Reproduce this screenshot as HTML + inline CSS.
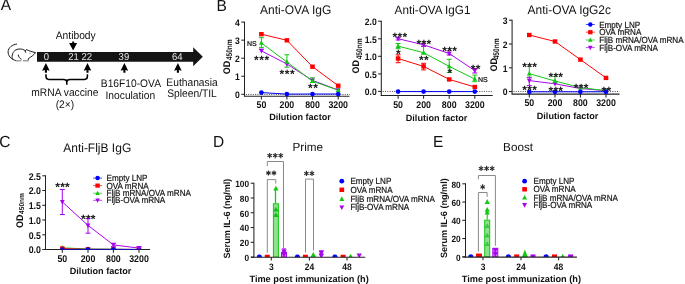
<!DOCTYPE html>
<html><head><meta charset="utf-8"><style>
html,body{margin:0;padding:0;background:#fff;}
svg{display:block;will-change:transform;text-rendering:geometricPrecision;font-family:"Liberation Sans", sans-serif;}
</style></head><body>
<svg xmlns="http://www.w3.org/2000/svg" width="685" height="284" viewBox="0 0 685 284">
<text transform="translate(0.70,10.30) scale(1,1.03)" x="0" y="0" font-size="15.5" font-weight="normal" text-anchor="start" fill="#111" >A</text>
<text transform="translate(216.60,10.90) scale(1,1.03)" x="0" y="0" font-size="15.5" font-weight="normal" text-anchor="start" fill="#111" >B</text>
<text transform="translate(-0.80,146.90) scale(1,1.03)" x="0" y="0" font-size="15.5" font-weight="normal" text-anchor="start" fill="#111" >C</text>
<text transform="translate(213.00,147.10) scale(1,1.03)" x="0" y="0" font-size="15.5" font-weight="normal" text-anchor="start" fill="#111" >D</text>
<text transform="translate(433.00,147.10) scale(1,1.03)" x="0" y="0" font-size="15.5" font-weight="normal" text-anchor="start" fill="#111" >E</text>
<g fill="none" stroke="#1a1a1a" stroke-width="1.0" stroke-linecap="round" stroke-linejoin="round"><path d="M16.6,44.1 C12.2,44.5 8.3,47.7 8.1,51.6 C7.9,55.6 11,59.3 15.6,60.5"/><path d="M12.3,58.8 C11.6,55.4 12.6,51.7 15.9,49.9 C18.6,48.5 22,48.7 24.7,50.2 L25.6,52.3"/><path d="M25.5,50.8 L26.4,49.5 C28.8,51.0 32.2,51.8 35.6,52.6 C33.8,55.0 31.0,57.0 28.4,58.6 L28.2,60.0"/><path d="M18.3,55.0 C18.6,56.7 19.4,58.3 21.2,59.2"/></g>
<path d="M15.8,60.0 L21.3,60.0 L21.3,61.4 L15.8,61.4 Z M22.9,60.0 L28.7,60.0 L28.7,61.4 L22.9,61.4 Z" fill="#a0a0a0"/>
<path d="M29.4,53.3 L30.5,53.1" stroke="#666" stroke-width="0.8"/>
<polygon points="37,52 193.2,52 193.2,47.2 202.8,56.8 193.2,66.3 193.2,61.7 37,61.7" fill="#141414"/>
<text transform="translate(46.40,60.00) scale(1,1.05)" x="0" y="0" font-size="9.5" font-weight="normal" text-anchor="middle" fill="#e6e6e6" >0</text>
<text transform="translate(73.60,60.00) scale(1,1.05)" x="0" y="0" font-size="9.5" font-weight="normal" text-anchor="middle" fill="#e6e6e6" >21</text>
<text transform="translate(86.70,60.00) scale(1,1.05)" x="0" y="0" font-size="9.5" font-weight="normal" text-anchor="middle" fill="#e6e6e6" >22</text>
<text transform="translate(123.90,60.00) scale(1,1.05)" x="0" y="0" font-size="9.5" font-weight="normal" text-anchor="middle" fill="#e6e6e6" >39</text>
<text transform="translate(177.30,60.00) scale(1,1.05)" x="0" y="0" font-size="9.5" font-weight="normal" text-anchor="middle" fill="#e6e6e6" >64</text>
<text transform="translate(75.70,39.10) scale(1,1.07)" x="0" y="0" font-size="10.25" font-weight="normal" text-anchor="middle" fill="#111" >Antibody</text>
<polygon points="72.2,41.4 74.1,41.4 74.1,43.1 77.1,42.9 73.15,50.4 69.1,42.9 72.2,43.1" fill="#000"/>
<polygon points="45.9,62.9 49.699999999999996,70.8 46.949999999999996,69.9 46.949999999999996,72.8 44.85,72.8 44.85,69.9 42.1,70.8" fill="#000"/>
<polygon points="87.5,62.9 91.3,70.8 88.55,69.9 88.55,72.8 86.45,72.8 86.45,69.9 83.7,70.8" fill="#000"/>
<polygon points="124.4,62.9 128.20000000000002,70.8 125.45,69.9 125.45,72.8 123.35000000000001,72.8 123.35000000000001,69.9 120.60000000000001,70.8" fill="#000"/>
<polygon points="177.9,62.9 181.70000000000002,70.8 178.95000000000002,69.9 178.95000000000002,72.8 176.85,72.8 176.85,69.9 174.1,70.8" fill="#000"/>
<path d="M46,74.2 L46,76.6 Q46,79.4 48.8,79.4 L63.6,79.4 Q66.8,79.4 66.8,82 M66.8,79.4 L66.8,84.8 M66.8,82 Q66.8,79.4 70,79.4 L84.6,79.4 Q87.4,79.4 87.4,76.6 L87.4,74.2" fill="none" stroke="#000" stroke-width="1.55"/>
<text transform="translate(64.90,96.00) scale(1,1.07)" x="0" y="0" font-size="10.25" font-weight="normal" text-anchor="middle" fill="#111" >mRNA vaccine</text>
<text transform="translate(64.90,107.60) scale(1,1.07)" x="0" y="0" font-size="10.25" font-weight="normal" text-anchor="middle" fill="#111" >(2×)</text>
<text transform="translate(130.90,87.20) scale(1,1.07)" x="0" y="0" font-size="10.25" font-weight="normal" text-anchor="middle" fill="#111" >B16F10-OVA</text>
<text transform="translate(130.30,98.90) scale(1,1.07)" x="0" y="0" font-size="10.25" font-weight="normal" text-anchor="middle" fill="#111" >Inoculation</text>
<text transform="translate(192.00,86.00) scale(1,1.07)" x="0" y="0" font-size="10.25" font-weight="normal" text-anchor="middle" fill="#111" >Euthanasia</text>
<text transform="translate(192.00,97.30) scale(1,1.07)" x="0" y="0" font-size="10.25" font-weight="normal" text-anchor="middle" fill="#111" >Spleen/TIL</text>
<line x1="245.9" y1="94.45" x2="350" y2="94.45" stroke="#4a4a4a" stroke-width="1.0" stroke-dasharray="1,1.3"/>
<line x1="244.5" y1="21.6" x2="244.5" y2="96.3" stroke="#222222" stroke-width="1.05" />
<line x1="241.3" y1="22.1" x2="244.5" y2="22.1" stroke="#222222" stroke-width="1.05" />
<text transform="translate(239.90,25.90) scale(1,1.1)" x="0" y="0" font-size="8.6" font-weight="bold" text-anchor="end" fill="#111" >4</text>
<line x1="241.3" y1="40.15" x2="244.5" y2="40.15" stroke="#222222" stroke-width="1.05" />
<text transform="translate(239.90,43.95) scale(1,1.1)" x="0" y="0" font-size="8.6" font-weight="bold" text-anchor="end" fill="#111" >3</text>
<line x1="241.3" y1="58.2" x2="244.5" y2="58.2" stroke="#222222" stroke-width="1.05" />
<text transform="translate(239.90,62.00) scale(1,1.1)" x="0" y="0" font-size="8.6" font-weight="bold" text-anchor="end" fill="#111" >2</text>
<line x1="241.3" y1="76.25" x2="244.5" y2="76.25" stroke="#222222" stroke-width="1.05" />
<text transform="translate(239.90,80.05) scale(1,1.1)" x="0" y="0" font-size="8.6" font-weight="bold" text-anchor="end" fill="#111" >1</text>
<line x1="241.3" y1="94.3" x2="244.5" y2="94.3" stroke="#222222" stroke-width="1.05" />
<text transform="translate(239.90,98.10) scale(1,1.1)" x="0" y="0" font-size="8.6" font-weight="bold" text-anchor="end" fill="#111" >0</text>
<line x1="243.9" y1="96.3" x2="349.5" y2="96.3" stroke="#222222" stroke-width="1.05" />
<line x1="261.4" y1="96.3" x2="261.4" y2="99.6" stroke="#222222" stroke-width="1.05" />
<line x1="286.9" y1="96.3" x2="286.9" y2="99.6" stroke="#222222" stroke-width="1.05" />
<line x1="312.5" y1="96.3" x2="312.5" y2="99.6" stroke="#222222" stroke-width="1.05" />
<line x1="338.2" y1="96.3" x2="338.2" y2="99.6" stroke="#222222" stroke-width="1.05" />
<text transform="translate(261.40,108.10) scale(1,1.1)" x="0" y="0" font-size="8.8" font-weight="bold" text-anchor="middle" fill="#111" >50</text>
<text transform="translate(286.90,108.10) scale(1,1.1)" x="0" y="0" font-size="8.8" font-weight="bold" text-anchor="middle" fill="#111" >200</text>
<text transform="translate(312.50,108.10) scale(1,1.1)" x="0" y="0" font-size="8.8" font-weight="bold" text-anchor="middle" fill="#111" >800</text>
<text transform="translate(338.20,108.10) scale(1,1.1)" x="0" y="0" font-size="8.8" font-weight="bold" text-anchor="middle" fill="#111" >3200</text>
<text x="300" y="120.45" font-size="9.1" font-weight="bold" text-anchor="middle" fill="#111" >Dilution factor</text>
<text transform="translate(260.10,13.90) scale(1,1.04)" x="0" y="0" font-size="12.0" font-weight="normal" text-anchor="start" fill="#111" >Anti-OVA IgG</text>
<g transform="translate(229.5,74.2) rotate(-90)"><text x="0" y="0" font-size="9.7" font-weight="bold" fill="#111" transform="scale(0.93,1)">OD</text></g>
<g transform="translate(232.0,60.099999999999994) rotate(-90)"><text x="0" y="0" font-size="8.2" font-weight="bold" fill="#111" transform="scale(0.8,1)">450nm</text></g>
<polyline points="261.4,92.6 286.9,94.1 312.5,94 338.2,94" fill="none" stroke="#0000ff" stroke-width="1.0"/>
<polyline points="261.4,50.9 286.9,64 312.5,80.4 338.2,90" fill="none" stroke="#a805ee" stroke-width="1.0"/>
<polyline points="261.4,43 286.9,62 312.5,81.2 338.2,90.2" fill="none" stroke="#12c812" stroke-width="1.0"/>
<polyline points="261.4,34.2 286.9,40.3 312.5,66.7 338.2,85.7" fill="none" stroke="#ff0000" stroke-width="1.0"/>
<line x1="261.4" y1="37.7" x2="261.4" y2="47.4" stroke="#12c812" stroke-width="1.0" />
<line x1="258.9" y1="37.7" x2="263.9" y2="37.7" stroke="#12c812" stroke-width="1.0" />
<line x1="258.9" y1="47.4" x2="263.9" y2="47.4" stroke="#12c812" stroke-width="1.0" />
<line x1="286.9" y1="54.8" x2="286.9" y2="67.2" stroke="#12c812" stroke-width="1.0" />
<line x1="284.4" y1="54.8" x2="289.4" y2="54.8" stroke="#12c812" stroke-width="1.0" />
<line x1="284.4" y1="67.2" x2="289.4" y2="67.2" stroke="#12c812" stroke-width="1.0" />
<line x1="312.5" y1="77.8" x2="312.5" y2="82.5" stroke="#12c812" stroke-width="1.0" />
<line x1="310.0" y1="77.8" x2="315.0" y2="77.8" stroke="#12c812" stroke-width="1.0" />
<line x1="310.0" y1="82.5" x2="315.0" y2="82.5" stroke="#12c812" stroke-width="1.0" />
<line x1="258.9" y1="49.1" x2="263.9" y2="49.1" stroke="#a805ee" stroke-width="1.0" />
<polygon points="261.4,53.545 258.98499999999996,49.06 263.815,49.06" fill="#a805ee"/>
<polygon points="286.9,66.645 284.48499999999996,62.16 289.315,62.16" fill="#a805ee"/>
<polygon points="312.5,83.045 310.085,78.56 314.915,78.56" fill="#a805ee"/>
<polygon points="338.2,92.645 335.78499999999997,88.16 340.615,88.16" fill="#a805ee"/>
<polygon points="261.4,40.355000000000004 258.98499999999996,44.84 263.815,44.84" fill="#12c812"/>
<polygon points="286.9,59.355000000000004 284.48499999999996,63.84 289.315,63.84" fill="#12c812"/>
<polygon points="312.5,78.555 310.085,83.04 314.915,83.04" fill="#12c812"/>
<polygon points="338.2,87.555 335.78499999999997,92.04 340.615,92.04" fill="#12c812"/>
<rect x="259.09999999999997" y="32.015" width="4.6" height="4.369999999999999" fill="#ff0000"/>
<rect x="284.59999999999997" y="38.114999999999995" width="4.6" height="4.369999999999999" fill="#ff0000"/>
<rect x="310.2" y="64.515" width="4.6" height="4.369999999999999" fill="#ff0000"/>
<rect x="335.9" y="83.515" width="4.6" height="4.369999999999999" fill="#ff0000"/>
<circle cx="261.4" cy="92.6" r="2.3459999999999996" fill="#0000ff"/>
<circle cx="286.9" cy="94.1" r="2.3459999999999996" fill="#0000ff"/>
<circle cx="312.5" cy="94" r="2.3459999999999996" fill="#0000ff"/>
<circle cx="338.2" cy="94" r="2.3459999999999996" fill="#0000ff"/>
<text x="247.0" y="45.5" font-size="7.0" font-weight="normal" text-anchor="start" fill="#111" stroke="#111" stroke-width="0.22">NS</text>
<text x="256.35" y="64.08" font-size="12.0" text-anchor="middle" font-weight="bold" fill="#1c1c1c">*</text>
<text x="261.65" y="64.08" font-size="12.0" text-anchor="middle" font-weight="bold" fill="#1c1c1c">*</text>
<text x="266.95" y="64.08" font-size="12.0" text-anchor="middle" font-weight="bold" fill="#1c1c1c">*</text>
<text x="281.75" y="77.78" font-size="12.0" text-anchor="middle" font-weight="bold" fill="#1c1c1c">*</text>
<text x="287.05" y="77.78" font-size="12.0" text-anchor="middle" font-weight="bold" fill="#1c1c1c">*</text>
<text x="292.35" y="77.78" font-size="12.0" text-anchor="middle" font-weight="bold" fill="#1c1c1c">*</text>
<text x="310.30" y="92.28" font-size="12.0" text-anchor="middle" font-weight="bold" fill="#1c1c1c">*</text>
<text x="315.60" y="92.28" font-size="12.0" text-anchor="middle" font-weight="bold" fill="#1c1c1c">*</text>
<line x1="382.7" y1="91.45" x2="492.5" y2="91.45" stroke="#4a4a4a" stroke-width="1.0" stroke-dasharray="1,1.3"/>
<line x1="381.3" y1="20.7" x2="381.3" y2="95.4" stroke="#222222" stroke-width="1.05" />
<line x1="378.1" y1="21.2" x2="381.3" y2="21.2" stroke="#222222" stroke-width="1.05" />
<text transform="translate(376.70,25.00) scale(1,1.1)" x="0" y="0" font-size="8.6" font-weight="bold" text-anchor="end" fill="#111" >2.0</text>
<line x1="378.1" y1="38.8" x2="381.3" y2="38.8" stroke="#222222" stroke-width="1.05" />
<text transform="translate(376.70,42.60) scale(1,1.1)" x="0" y="0" font-size="8.6" font-weight="bold" text-anchor="end" fill="#111" >1.5</text>
<line x1="378.1" y1="56.3" x2="381.3" y2="56.3" stroke="#222222" stroke-width="1.05" />
<text transform="translate(376.70,60.10) scale(1,1.1)" x="0" y="0" font-size="8.6" font-weight="bold" text-anchor="end" fill="#111" >1.0</text>
<line x1="378.1" y1="73.9" x2="381.3" y2="73.9" stroke="#222222" stroke-width="1.05" />
<text transform="translate(376.70,77.70) scale(1,1.1)" x="0" y="0" font-size="8.6" font-weight="bold" text-anchor="end" fill="#111" >0.5</text>
<line x1="378.1" y1="91.4" x2="381.3" y2="91.4" stroke="#222222" stroke-width="1.05" />
<text transform="translate(376.70,95.20) scale(1,1.1)" x="0" y="0" font-size="8.6" font-weight="bold" text-anchor="end" fill="#111" >0.0</text>
<line x1="380.7" y1="95.4" x2="492.7" y2="95.4" stroke="#222222" stroke-width="1.05" />
<line x1="398.1" y1="95.4" x2="398.1" y2="98.7" stroke="#222222" stroke-width="1.05" />
<line x1="423.6" y1="95.4" x2="423.6" y2="98.7" stroke="#222222" stroke-width="1.05" />
<line x1="449.2" y1="95.4" x2="449.2" y2="98.7" stroke="#222222" stroke-width="1.05" />
<line x1="474.8" y1="95.4" x2="474.8" y2="98.7" stroke="#222222" stroke-width="1.05" />
<text transform="translate(398.10,107.70) scale(1,1.1)" x="0" y="0" font-size="8.8" font-weight="bold" text-anchor="middle" fill="#111" >50</text>
<text transform="translate(423.60,107.70) scale(1,1.1)" x="0" y="0" font-size="8.8" font-weight="bold" text-anchor="middle" fill="#111" >200</text>
<text transform="translate(449.20,107.70) scale(1,1.1)" x="0" y="0" font-size="8.8" font-weight="bold" text-anchor="middle" fill="#111" >800</text>
<text transform="translate(474.80,107.70) scale(1,1.1)" x="0" y="0" font-size="8.8" font-weight="bold" text-anchor="middle" fill="#111" >3200</text>
<text x="436.6" y="120.8" font-size="9.1" font-weight="bold" text-anchor="middle" fill="#111" >Dilution factor</text>
<text transform="translate(394.60,13.80) scale(1,1.04)" x="0" y="0" font-size="11.7" font-weight="normal" text-anchor="start" fill="#111" >Anti-OVA IgG1</text>
<g transform="translate(359.3,73.60000000000001) rotate(-90)"><text x="0" y="0" font-size="9.7" font-weight="bold" fill="#111" transform="scale(0.93,1)">OD</text></g>
<g transform="translate(361.8,59.3) rotate(-90)"><text x="0" y="0" font-size="8.2" font-weight="bold" fill="#111" transform="scale(0.8,1)">450nm</text></g>
<polyline points="398.1,91.6 423.6,91.6 449.2,91.6 474.8,91.6" fill="none" stroke="#0000ff" stroke-width="1.0"/>
<polyline points="398.1,58.5 423.6,66.4 449.2,79.4 474.8,87" fill="none" stroke="#ff0000" stroke-width="1.0"/>
<polyline points="398.1,46.1 423.6,52.7 449.2,66.4 474.8,79" fill="none" stroke="#12c812" stroke-width="1.0"/>
<polyline points="398.1,38.7 423.6,44.8 449.2,53.5 474.8,70.6" fill="none" stroke="#a805ee" stroke-width="1.0"/>
<line x1="398.1" y1="54.8" x2="398.1" y2="62.7" stroke="#ff0000" stroke-width="1.0" />
<line x1="395.6" y1="54.8" x2="400.6" y2="54.8" stroke="#ff0000" stroke-width="1.0" />
<line x1="395.6" y1="62.7" x2="400.6" y2="62.7" stroke="#ff0000" stroke-width="1.0" />
<line x1="423.6" y1="63.3" x2="423.6" y2="69.9" stroke="#ff0000" stroke-width="1.0" />
<line x1="421.1" y1="63.3" x2="426.1" y2="63.3" stroke="#ff0000" stroke-width="1.0" />
<line x1="421.1" y1="69.9" x2="426.1" y2="69.9" stroke="#ff0000" stroke-width="1.0" />
<line x1="398.1" y1="43.5" x2="398.1" y2="48.7" stroke="#12c812" stroke-width="1.0" />
<line x1="395.6" y1="43.5" x2="400.6" y2="43.5" stroke="#12c812" stroke-width="1.0" />
<line x1="395.6" y1="48.7" x2="400.6" y2="48.7" stroke="#12c812" stroke-width="1.0" />
<line x1="423.6" y1="46.1" x2="423.6" y2="54" stroke="#12c812" stroke-width="1.0" />
<line x1="421.1" y1="46.1" x2="426.1" y2="46.1" stroke="#12c812" stroke-width="1.0" />
<line x1="421.1" y1="54" x2="426.1" y2="54" stroke="#12c812" stroke-width="1.0" />
<line x1="449.2" y1="59.3" x2="449.2" y2="72.5" stroke="#12c812" stroke-width="1.0" />
<line x1="446.7" y1="59.3" x2="451.7" y2="59.3" stroke="#12c812" stroke-width="1.0" />
<line x1="446.7" y1="72.5" x2="451.7" y2="72.5" stroke="#12c812" stroke-width="1.0" />
<line x1="474.8" y1="75.1" x2="474.8" y2="81.7" stroke="#12c812" stroke-width="1.0" />
<line x1="472.3" y1="75.1" x2="477.3" y2="75.1" stroke="#12c812" stroke-width="1.0" />
<line x1="472.3" y1="81.7" x2="477.3" y2="81.7" stroke="#12c812" stroke-width="1.0" />
<line x1="449.2" y1="50.8" x2="449.2" y2="55" stroke="#a805ee" stroke-width="1.0" />
<line x1="446.7" y1="50.8" x2="451.7" y2="50.8" stroke="#a805ee" stroke-width="1.0" />
<line x1="446.7" y1="55" x2="451.7" y2="55" stroke="#a805ee" stroke-width="1.0" />
<line x1="474.8" y1="68.5" x2="474.8" y2="73" stroke="#a805ee" stroke-width="1.0" />
<line x1="472.3" y1="68.5" x2="477.3" y2="68.5" stroke="#a805ee" stroke-width="1.0" />
<line x1="472.3" y1="73" x2="477.3" y2="73" stroke="#a805ee" stroke-width="1.0" />
<line x1="398.1" y1="37.4" x2="398.1" y2="40" stroke="#a805ee" stroke-width="1.0" />
<line x1="395.6" y1="37.4" x2="400.6" y2="37.4" stroke="#a805ee" stroke-width="1.0" />
<line x1="395.6" y1="40" x2="400.6" y2="40" stroke="#a805ee" stroke-width="1.0" />
<line x1="423.6" y1="43.2" x2="423.6" y2="46.4" stroke="#a805ee" stroke-width="1.0" />
<line x1="421.1" y1="43.2" x2="426.1" y2="43.2" stroke="#a805ee" stroke-width="1.0" />
<line x1="421.1" y1="46.4" x2="426.1" y2="46.4" stroke="#a805ee" stroke-width="1.0" />
<rect x="395.8" y="56.315" width="4.6" height="4.369999999999999" fill="#ff0000"/>
<rect x="421.3" y="64.215" width="4.6" height="4.369999999999999" fill="#ff0000"/>
<rect x="446.9" y="77.215" width="4.6" height="4.369999999999999" fill="#ff0000"/>
<rect x="472.5" y="84.815" width="4.6" height="4.369999999999999" fill="#ff0000"/>
<polygon points="398.1,43.455 395.685,47.94 400.51500000000004,47.94" fill="#12c812"/>
<polygon points="423.6,50.05500000000001 421.185,54.540000000000006 426.01500000000004,54.540000000000006" fill="#12c812"/>
<polygon points="449.2,63.75500000000001 446.78499999999997,68.24000000000001 451.615,68.24000000000001" fill="#12c812"/>
<polygon points="474.8,76.355 472.385,80.84 477.21500000000003,80.84" fill="#12c812"/>
<polygon points="398.1,41.345 395.685,36.86 400.51500000000004,36.86" fill="#a805ee"/>
<polygon points="423.6,47.44499999999999 421.185,42.959999999999994 426.01500000000004,42.959999999999994" fill="#a805ee"/>
<polygon points="449.2,56.144999999999996 446.78499999999997,51.66 451.615,51.66" fill="#a805ee"/>
<polygon points="474.8,73.24499999999999 472.385,68.75999999999999 477.21500000000003,68.75999999999999" fill="#a805ee"/>
<circle cx="398.1" cy="91.6" r="2.3459999999999996" fill="#0000ff"/>
<circle cx="423.6" cy="91.6" r="2.3459999999999996" fill="#0000ff"/>
<circle cx="449.2" cy="91.6" r="2.3459999999999996" fill="#0000ff"/>
<circle cx="474.8" cy="91.6" r="2.3459999999999996" fill="#0000ff"/>
<text x="394.75" y="40.83" font-size="12.0" text-anchor="middle" font-weight="bold" fill="#1c1c1c">*</text>
<text x="399.75" y="40.83" font-size="12.0" text-anchor="middle" font-weight="bold" fill="#1c1c1c">*</text>
<text x="404.75" y="40.83" font-size="12.0" text-anchor="middle" font-weight="bold" fill="#1c1c1c">*</text>
<text x="398.25" y="57.58" font-size="12.0" text-anchor="middle" font-weight="bold" fill="#1c1c1c">*</text>
<text x="418.95" y="47.78" font-size="12.0" text-anchor="middle" font-weight="bold" fill="#1c1c1c">*</text>
<text x="423.95" y="47.78" font-size="12.0" text-anchor="middle" font-weight="bold" fill="#1c1c1c">*</text>
<text x="428.95" y="47.78" font-size="12.0" text-anchor="middle" font-weight="bold" fill="#1c1c1c">*</text>
<text x="421.35" y="64.18" font-size="12.0" text-anchor="middle" font-weight="bold" fill="#1c1c1c">*</text>
<text x="426.35" y="64.18" font-size="12.0" text-anchor="middle" font-weight="bold" fill="#1c1c1c">*</text>
<text x="444.65" y="55.48" font-size="12.0" text-anchor="middle" font-weight="bold" fill="#1c1c1c">*</text>
<text x="449.65" y="55.48" font-size="12.0" text-anchor="middle" font-weight="bold" fill="#1c1c1c">*</text>
<text x="454.65" y="55.48" font-size="12.0" text-anchor="middle" font-weight="bold" fill="#1c1c1c">*</text>
<text x="449.85" y="76.98" font-size="12.0" text-anchor="middle" font-weight="bold" fill="#1c1c1c">*</text>
<text x="473.05" y="73.08" font-size="12.0" text-anchor="middle" font-weight="bold" fill="#1c1c1c">*</text>
<text x="478.05" y="73.08" font-size="12.0" text-anchor="middle" font-weight="bold" fill="#1c1c1c">*</text>
<text x="478.0" y="81.9" font-size="7.0" font-weight="normal" text-anchor="start" fill="#111" stroke="#111" stroke-width="0.22">NS</text>
<line x1="513.5" y1="91.55" x2="619.5" y2="91.55" stroke="#4a4a4a" stroke-width="1.0" stroke-dasharray="1,1.3"/>
<line x1="512.1" y1="19.7" x2="512.1" y2="94.1" stroke="#222222" stroke-width="1.05" />
<line x1="508.90000000000003" y1="20.2" x2="512.1" y2="20.2" stroke="#222222" stroke-width="1.05" />
<text transform="translate(507.50,24.00) scale(1,1.1)" x="0" y="0" font-size="8.6" font-weight="bold" text-anchor="end" fill="#111" >3</text>
<line x1="508.90000000000003" y1="44.0" x2="512.1" y2="44.0" stroke="#222222" stroke-width="1.05" />
<text transform="translate(507.50,47.80) scale(1,1.1)" x="0" y="0" font-size="8.6" font-weight="bold" text-anchor="end" fill="#111" >2</text>
<line x1="508.90000000000003" y1="67.8" x2="512.1" y2="67.8" stroke="#222222" stroke-width="1.05" />
<text transform="translate(507.50,71.60) scale(1,1.1)" x="0" y="0" font-size="8.6" font-weight="bold" text-anchor="end" fill="#111" >1</text>
<line x1="508.90000000000003" y1="91.55" x2="512.1" y2="91.55" stroke="#222222" stroke-width="1.05" />
<text transform="translate(507.50,95.35) scale(1,1.1)" x="0" y="0" font-size="8.6" font-weight="bold" text-anchor="end" fill="#111" >0</text>
<line x1="511.5" y1="94.1" x2="619.5" y2="94.1" stroke="#222222" stroke-width="1.05" />
<line x1="529.3" y1="94.1" x2="529.3" y2="97.39999999999999" stroke="#222222" stroke-width="1.05" />
<line x1="555.0" y1="94.1" x2="555.0" y2="97.39999999999999" stroke="#222222" stroke-width="1.05" />
<line x1="580.4" y1="94.1" x2="580.4" y2="97.39999999999999" stroke="#222222" stroke-width="1.05" />
<line x1="606.0" y1="94.1" x2="606.0" y2="97.39999999999999" stroke="#222222" stroke-width="1.05" />
<text transform="translate(529.30,106.40) scale(1,1.1)" x="0" y="0" font-size="8.8" font-weight="bold" text-anchor="middle" fill="#111" >50</text>
<text transform="translate(555.00,106.40) scale(1,1.1)" x="0" y="0" font-size="8.8" font-weight="bold" text-anchor="middle" fill="#111" >200</text>
<text transform="translate(580.40,106.40) scale(1,1.1)" x="0" y="0" font-size="8.8" font-weight="bold" text-anchor="middle" fill="#111" >800</text>
<text transform="translate(606.00,106.40) scale(1,1.1)" x="0" y="0" font-size="8.8" font-weight="bold" text-anchor="middle" fill="#111" >3200</text>
<text x="567.6" y="118.9" font-size="9.1" font-weight="bold" text-anchor="middle" fill="#111" >Dilution factor</text>
<text transform="translate(527.60,13.80) scale(1,1.04)" x="0" y="0" font-size="11.95" font-weight="normal" text-anchor="start" fill="#111" >Anti-OVA IgG2c</text>
<g transform="translate(497.4,71.4) rotate(-90)"><text x="0" y="0" font-size="9.7" font-weight="bold" fill="#111" transform="scale(0.93,1)">OD</text></g>
<g transform="translate(499.3,59.3) rotate(-90)"><text x="0" y="0" font-size="8.2" font-weight="bold" fill="#111" transform="scale(0.8,1)">450nm</text></g>
<polyline points="529.3,35 555.0,41.5 580.4,59.6 606.0,77.9" fill="none" stroke="#ff0000" stroke-width="1.0"/>
<polyline points="529.3,80.6 555.0,83.8 580.4,88.5 606.0,90.7" fill="none" stroke="#a805ee" stroke-width="1.0"/>
<polyline points="529.3,73.7 555.0,81 580.4,87.6 606.0,90.7" fill="none" stroke="#12c812" stroke-width="1.0"/>
<polyline points="529.3,91.8 555.0,91.8 580.4,91.8 606.0,91.8" fill="none" stroke="#0000ff" stroke-width="1.0"/>
<line x1="529.3" y1="66.4" x2="529.3" y2="77.2" stroke="#12c812" stroke-width="1.0" />
<line x1="526.8" y1="66.4" x2="531.8" y2="66.4" stroke="#12c812" stroke-width="1.0" />
<line x1="526.8" y1="77.2" x2="531.8" y2="77.2" stroke="#12c812" stroke-width="1.0" />
<line x1="555.0" y1="76.4" x2="555.0" y2="83.5" stroke="#12c812" stroke-width="1.0" />
<line x1="552.5" y1="76.4" x2="557.5" y2="76.4" stroke="#12c812" stroke-width="1.0" />
<line x1="552.5" y1="83.5" x2="557.5" y2="83.5" stroke="#12c812" stroke-width="1.0" />
<line x1="529.3" y1="77.7" x2="529.3" y2="85.6" stroke="#a805ee" stroke-width="1.0" />
<line x1="526.8" y1="77.7" x2="531.8" y2="77.7" stroke="#a805ee" stroke-width="1.0" />
<line x1="526.8" y1="85.6" x2="531.8" y2="85.6" stroke="#a805ee" stroke-width="1.0" />
<rect x="527.0" y="32.815" width="4.6" height="4.369999999999999" fill="#ff0000"/>
<rect x="552.7" y="39.315" width="4.6" height="4.369999999999999" fill="#ff0000"/>
<rect x="578.1" y="57.415" width="4.6" height="4.369999999999999" fill="#ff0000"/>
<rect x="603.7" y="75.715" width="4.6" height="4.369999999999999" fill="#ff0000"/>
<polygon points="529.3,83.24499999999999 526.885,78.75999999999999 531.7149999999999,78.75999999999999" fill="#a805ee"/>
<polygon points="555.0,86.445 552.585,81.96 557.415,81.96" fill="#a805ee"/>
<polygon points="580.4,91.145 577.985,86.66 582.8149999999999,86.66" fill="#a805ee"/>
<polygon points="606.0,93.345 603.585,88.86 608.415,88.86" fill="#a805ee"/>
<polygon points="529.3,71.055 526.885,75.54 531.7149999999999,75.54" fill="#12c812"/>
<polygon points="555.0,78.355 552.585,82.84 557.415,82.84" fill="#12c812"/>
<polygon points="580.4,84.955 577.985,89.44 582.8149999999999,89.44" fill="#12c812"/>
<polygon points="606.0,88.055 603.585,92.54 608.415,92.54" fill="#12c812"/>
<circle cx="529.3" cy="91.8" r="2.3459999999999996" fill="#0000ff"/>
<circle cx="555.0" cy="91.8" r="2.3459999999999996" fill="#0000ff"/>
<circle cx="580.4" cy="91.8" r="2.3459999999999996" fill="#0000ff"/>
<circle cx="606.0" cy="91.8" r="2.3459999999999996" fill="#0000ff"/>
<text x="524.70" y="70.98" font-size="12.0" text-anchor="middle" font-weight="bold" fill="#1c1c1c">*</text>
<text x="529.65" y="70.98" font-size="12.0" text-anchor="middle" font-weight="bold" fill="#1c1c1c">*</text>
<text x="534.60" y="70.98" font-size="12.0" text-anchor="middle" font-weight="bold" fill="#1c1c1c">*</text>
<text x="524.70" y="94.28" font-size="12.0" text-anchor="middle" font-weight="bold" fill="#1c1c1c">*</text>
<text x="529.65" y="94.28" font-size="12.0" text-anchor="middle" font-weight="bold" fill="#1c1c1c">*</text>
<text x="534.60" y="94.28" font-size="12.0" text-anchor="middle" font-weight="bold" fill="#1c1c1c">*</text>
<text x="550.80" y="81.38" font-size="12.0" text-anchor="middle" font-weight="bold" fill="#1c1c1c">*</text>
<text x="555.75" y="81.38" font-size="12.0" text-anchor="middle" font-weight="bold" fill="#1c1c1c">*</text>
<text x="560.70" y="81.38" font-size="12.0" text-anchor="middle" font-weight="bold" fill="#1c1c1c">*</text>
<text x="550.80" y="95.38" font-size="12.0" text-anchor="middle" font-weight="bold" fill="#1c1c1c">*</text>
<text x="555.75" y="95.38" font-size="12.0" text-anchor="middle" font-weight="bold" fill="#1c1c1c">*</text>
<text x="560.70" y="95.38" font-size="12.0" text-anchor="middle" font-weight="bold" fill="#1c1c1c">*</text>
<text x="576.20" y="91.68" font-size="12.0" text-anchor="middle" font-weight="bold" fill="#1c1c1c">*</text>
<text x="581.15" y="91.68" font-size="12.0" text-anchor="middle" font-weight="bold" fill="#1c1c1c">*</text>
<text x="586.10" y="91.68" font-size="12.0" text-anchor="middle" font-weight="bold" fill="#1c1c1c">*</text>
<text x="603.77" y="95.08" font-size="12.0" text-anchor="middle" font-weight="bold" fill="#1c1c1c">*</text>
<text x="608.73" y="95.08" font-size="12.0" text-anchor="middle" font-weight="bold" fill="#1c1c1c">*</text>
<line x1="585.8" y1="24.5" x2="594.8" y2="24.5" stroke="#0000ff" stroke-width="1" opacity="0.7"/>
<circle cx="590.3" cy="24.5" r="2.244" fill="#0000ff"/>
<text transform="translate(599.20,27.50) scale(1,1.1)" x="0" y="0" font-size="8.1" font-weight="normal" text-anchor="start" fill="#111" stroke="#111" stroke-width="0.18">Empty LNP</text>
<line x1="585.8" y1="32.2" x2="594.8" y2="32.2" stroke="#ff0000" stroke-width="1" opacity="0.7"/>
<rect x="588.0999999999999" y="30.110000000000003" width="4.4" height="4.18" fill="#ff0000"/>
<text transform="translate(599.20,35.20) scale(1,1.1)" x="0" y="0" font-size="8.1" font-weight="normal" text-anchor="start" fill="#111" stroke="#111" stroke-width="0.18">OVA mRNA</text>
<line x1="585.8" y1="40.0" x2="594.8" y2="40.0" stroke="#12c812" stroke-width="1" opacity="0.7"/>
<polygon points="590.3,37.47 587.99,41.76 592.6099999999999,41.76" fill="#12c812"/>
<text transform="translate(599.20,43.00) scale(1,1.1)" x="0" y="0" font-size="8.1" font-weight="normal" text-anchor="start" fill="#111" stroke="#111" stroke-width="0.18">FljB mRNA/OVA mRNA</text>
<line x1="585.8" y1="47.6" x2="594.8" y2="47.6" stroke="#a805ee" stroke-width="1" opacity="0.7"/>
<polygon points="590.3,50.13 587.99,45.84 592.6099999999999,45.84" fill="#a805ee"/>
<text transform="translate(599.20,50.60) scale(1,1.1)" x="0" y="0" font-size="8.1" font-weight="normal" text-anchor="start" fill="#111" stroke="#111" stroke-width="0.18">FljB-OVA mRNA</text>
<line x1="45.5" y1="175.3" x2="45.5" y2="249.4" stroke="#222222" stroke-width="1.05" />
<line x1="42.3" y1="175.8" x2="45.5" y2="175.8" stroke="#222222" stroke-width="1.05" />
<text transform="translate(40.90,179.60) scale(1,1.1)" x="0" y="0" font-size="8.8" font-weight="bold" text-anchor="end" fill="#111" >2.5</text>
<line x1="42.3" y1="190.5" x2="45.5" y2="190.5" stroke="#222222" stroke-width="1.05" />
<text transform="translate(40.90,194.30) scale(1,1.1)" x="0" y="0" font-size="8.8" font-weight="bold" text-anchor="end" fill="#111" >2.0</text>
<line x1="42.3" y1="205.3" x2="45.5" y2="205.3" stroke="#222222" stroke-width="1.05" />
<text transform="translate(40.90,209.10) scale(1,1.1)" x="0" y="0" font-size="8.8" font-weight="bold" text-anchor="end" fill="#111" >1.5</text>
<line x1="42.3" y1="220.0" x2="45.5" y2="220.0" stroke="#222222" stroke-width="1.05" />
<text transform="translate(40.90,223.80) scale(1,1.1)" x="0" y="0" font-size="8.8" font-weight="bold" text-anchor="end" fill="#111" >1.0</text>
<line x1="42.3" y1="234.8" x2="45.5" y2="234.8" stroke="#222222" stroke-width="1.05" />
<text transform="translate(40.90,238.60) scale(1,1.1)" x="0" y="0" font-size="8.8" font-weight="bold" text-anchor="end" fill="#111" >0.5</text>
<line x1="42.3" y1="249.5" x2="45.5" y2="249.5" stroke="#222222" stroke-width="1.05" />
<text transform="translate(40.90,253.30) scale(1,1.1)" x="0" y="0" font-size="8.8" font-weight="bold" text-anchor="end" fill="#111" >0.0</text>
<text x="100.6" y="274.4" font-size="9.1" font-weight="bold" text-anchor="middle" fill="#111" >Dilution factor</text>
<text transform="translate(63.20,151.50) scale(1,1.04)" x="0" y="0" font-size="12.0" font-weight="normal" text-anchor="start" fill="#111" >Anti-FljB IgG</text>
<g transform="translate(22.5,227.9) rotate(-90)"><text x="0" y="0" font-size="9.7" font-weight="bold" fill="#111" transform="scale(0.93,1)">OD</text></g>
<g transform="translate(24.3,213.9) rotate(-90)"><text x="0" y="0" font-size="7.2" font-weight="bold" fill="#111" transform="scale(0.91,1)">450nm</text></g>
<clipPath id="cC"><rect x="40" y="150" width="120" height="99.5"/></clipPath>
<g clip-path="url(#cC)">
<polyline points="62.3,247.8 88.0,249 113.4,249.3 139.0,249.5" fill="none" stroke="#12c812" stroke-width="1.0"/>
<polyline points="62.3,248.5 88.0,249.3 113.4,249.3 139.0,249.5" fill="none" stroke="#ff0000" stroke-width="1.0"/>
<polyline points="62.3,249.5 88.0,249.5 113.4,249.5 139.0,249.5" fill="none" stroke="#0000ff" stroke-width="1.0"/>
<polyline points="62.3,201.9 88.0,225.4 113.4,244.9 139.0,248.1" fill="none" stroke="#a805ee" stroke-width="1.0"/>
<line x1="62.3" y1="189.5" x2="62.3" y2="214.5" stroke="#a805ee" stroke-width="1.0" />
<line x1="59.8" y1="189.5" x2="64.8" y2="189.5" stroke="#a805ee" stroke-width="1.0" />
<line x1="59.8" y1="214.5" x2="64.8" y2="214.5" stroke="#a805ee" stroke-width="1.0" />
<line x1="88.0" y1="218.6" x2="88.0" y2="233.2" stroke="#a805ee" stroke-width="1.0" />
<line x1="85.5" y1="218.6" x2="90.5" y2="218.6" stroke="#a805ee" stroke-width="1.0" />
<line x1="85.5" y1="233.2" x2="90.5" y2="233.2" stroke="#a805ee" stroke-width="1.0" />
<line x1="113.4" y1="243.2" x2="113.4" y2="246.6" stroke="#a805ee" stroke-width="1.0" />
<line x1="110.9" y1="243.2" x2="115.9" y2="243.2" stroke="#a805ee" stroke-width="1.0" />
<line x1="110.9" y1="246.6" x2="115.9" y2="246.6" stroke="#a805ee" stroke-width="1.0" />
<line x1="139.0" y1="246.5" x2="139.0" y2="249.6" stroke="#a805ee" stroke-width="1.0" />
<line x1="136.5" y1="246.5" x2="141.5" y2="246.5" stroke="#a805ee" stroke-width="1.0" />
<line x1="136.5" y1="249.6" x2="141.5" y2="249.6" stroke="#a805ee" stroke-width="1.0" />
<polygon points="62.3,244.95499999999998 59.885,249.44 64.715,249.44" fill="#12c812"/>
<polygon points="88.0,246.355 85.585,250.84 90.415,250.84" fill="#12c812"/>
<polygon points="113.4,246.655 110.985,251.14000000000001 115.81500000000001,251.14000000000001" fill="#12c812"/>
<polygon points="139.0,246.855 136.585,251.34 141.415,251.34" fill="#12c812"/>
<rect x="60.0" y="246.315" width="4.6" height="4.369999999999999" fill="#ff0000"/>
<rect x="85.7" y="247.115" width="4.6" height="4.369999999999999" fill="#ff0000"/>
<rect x="111.10000000000001" y="247.115" width="4.6" height="4.369999999999999" fill="#ff0000"/>
<rect x="136.7" y="247.315" width="4.6" height="4.369999999999999" fill="#ff0000"/>
<circle cx="62.3" cy="249.5" r="2.3459999999999996" fill="#0000ff"/>
<circle cx="88.0" cy="249.5" r="2.3459999999999996" fill="#0000ff"/>
<circle cx="113.4" cy="249.5" r="2.3459999999999996" fill="#0000ff"/>
<circle cx="139.0" cy="249.5" r="2.3459999999999996" fill="#0000ff"/>
<polygon points="62.3,204.54500000000002 59.885,200.06 64.715,200.06" fill="#a805ee"/>
<polygon points="88.0,228.04500000000002 85.585,223.56 90.415,223.56" fill="#a805ee"/>
<polygon points="113.4,247.54500000000002 110.985,243.06 115.81500000000001,243.06" fill="#a805ee"/>
<polygon points="139.0,250.745 136.585,246.26 141.415,246.26" fill="#a805ee"/>
</g>
<line x1="44.9" y1="249.4" x2="150" y2="249.4" stroke="#222222" stroke-width="1.05" />
<line x1="62.3" y1="249.4" x2="62.3" y2="252.70000000000002" stroke="#222222" stroke-width="1.05" />
<line x1="88.0" y1="249.4" x2="88.0" y2="252.70000000000002" stroke="#222222" stroke-width="1.05" />
<line x1="113.4" y1="249.4" x2="113.4" y2="252.70000000000002" stroke="#222222" stroke-width="1.05" />
<line x1="139.0" y1="249.4" x2="139.0" y2="252.70000000000002" stroke="#222222" stroke-width="1.05" />
<text transform="translate(62.30,261.90) scale(1,1.1)" x="0" y="0" font-size="8.8" font-weight="bold" text-anchor="middle" fill="#111" >50</text>
<text transform="translate(88.00,261.90) scale(1,1.1)" x="0" y="0" font-size="8.8" font-weight="bold" text-anchor="middle" fill="#111" >200</text>
<text transform="translate(113.40,261.90) scale(1,1.1)" x="0" y="0" font-size="8.8" font-weight="bold" text-anchor="middle" fill="#111" >800</text>
<text transform="translate(139.00,261.90) scale(1,1.1)" x="0" y="0" font-size="8.8" font-weight="bold" text-anchor="middle" fill="#111" >3200</text>
<line x1="62.3" y1="249.4" x2="139.0" y2="249.4" stroke="#1010c0" stroke-width="1.0"/>
<text x="57.70" y="191.18" font-size="12.0" text-anchor="middle" font-weight="bold" fill="#1c1c1c">*</text>
<text x="62.55" y="191.18" font-size="12.0" text-anchor="middle" font-weight="bold" fill="#1c1c1c">*</text>
<text x="67.40" y="191.18" font-size="12.0" text-anchor="middle" font-weight="bold" fill="#1c1c1c">*</text>
<text x="83.40" y="223.08" font-size="12.0" text-anchor="middle" font-weight="bold" fill="#1c1c1c">*</text>
<text x="88.25" y="223.08" font-size="12.0" text-anchor="middle" font-weight="bold" fill="#1c1c1c">*</text>
<text x="93.10" y="223.08" font-size="12.0" text-anchor="middle" font-weight="bold" fill="#1c1c1c">*</text>
<line x1="93.1" y1="178.1" x2="102.1" y2="178.1" stroke="#0000ff" stroke-width="1" opacity="0.7"/>
<circle cx="97.6" cy="178.1" r="2.244" fill="#0000ff"/>
<text transform="translate(106.50,181.10) scale(1,1.1)" x="0" y="0" font-size="8.1" font-weight="normal" text-anchor="start" fill="#111" stroke="#111" stroke-width="0.18">Empty LNP</text>
<line x1="93.1" y1="185.6" x2="102.1" y2="185.6" stroke="#ff0000" stroke-width="1" opacity="0.7"/>
<rect x="95.39999999999999" y="183.51" width="4.4" height="4.18" fill="#ff0000"/>
<text transform="translate(106.50,188.60) scale(1,1.1)" x="0" y="0" font-size="8.1" font-weight="normal" text-anchor="start" fill="#111" stroke="#111" stroke-width="0.18">OVA mRNA</text>
<line x1="93.1" y1="193.2" x2="102.1" y2="193.2" stroke="#12c812" stroke-width="1" opacity="0.7"/>
<polygon points="97.6,190.67 95.28999999999999,194.95999999999998 99.91,194.95999999999998" fill="#12c812"/>
<text transform="translate(106.50,196.20) scale(1,1.1)" x="0" y="0" font-size="8.1" font-weight="normal" text-anchor="start" fill="#111" stroke="#111" stroke-width="0.18">FljB mRNA/OVA mRNA</text>
<line x1="93.1" y1="200.3" x2="102.1" y2="200.3" stroke="#a805ee" stroke-width="1" opacity="0.7"/>
<polygon points="97.6,202.83 95.28999999999999,198.54000000000002 99.91,198.54000000000002" fill="#a805ee"/>
<text transform="translate(106.50,203.30) scale(1,1.1)" x="0" y="0" font-size="8.1" font-weight="normal" text-anchor="start" fill="#111" stroke="#111" stroke-width="0.18">FljB-OVA mRNA</text>
<line x1="253.9" y1="182.7" x2="253.9" y2="257.3" stroke="#222222" stroke-width="1.05" />
<line x1="250.70000000000002" y1="183.20000000000002" x2="253.9" y2="183.20000000000002" stroke="#222222" stroke-width="1.05" />
<text transform="translate(249.10,187.00) scale(1,1.1)" x="0" y="0" font-size="8.3" font-weight="bold" text-anchor="end" fill="#111" >100</text>
<line x1="250.70000000000002" y1="197.98000000000002" x2="253.9" y2="197.98000000000002" stroke="#222222" stroke-width="1.05" />
<text transform="translate(249.10,201.78) scale(1,1.1)" x="0" y="0" font-size="8.3" font-weight="bold" text-anchor="end" fill="#111" >80</text>
<line x1="250.70000000000002" y1="212.76000000000002" x2="253.9" y2="212.76000000000002" stroke="#222222" stroke-width="1.05" />
<text transform="translate(249.10,216.56) scale(1,1.1)" x="0" y="0" font-size="8.3" font-weight="bold" text-anchor="end" fill="#111" >60</text>
<line x1="250.70000000000002" y1="227.54000000000002" x2="253.9" y2="227.54000000000002" stroke="#222222" stroke-width="1.05" />
<text transform="translate(249.10,231.34) scale(1,1.1)" x="0" y="0" font-size="8.3" font-weight="bold" text-anchor="end" fill="#111" >40</text>
<line x1="250.70000000000002" y1="242.32000000000002" x2="253.9" y2="242.32000000000002" stroke="#222222" stroke-width="1.05" />
<text transform="translate(249.10,246.12) scale(1,1.1)" x="0" y="0" font-size="8.3" font-weight="bold" text-anchor="end" fill="#111" >20</text>
<line x1="250.70000000000002" y1="257.1" x2="253.9" y2="257.1" stroke="#222222" stroke-width="1.05" />
<text transform="translate(249.10,260.90) scale(1,1.1)" x="0" y="0" font-size="8.3" font-weight="bold" text-anchor="end" fill="#111" >0</text>
<text x="292.5" y="151.3" font-size="11.7" font-weight="normal" text-anchor="start" fill="#111" >Prime</text>
<g transform="translate(230.0,258.5) rotate(-90)"><text x="0" y="0" font-size="9.1" font-weight="bold" fill="#111">Serum IL-6 (ng/ml)</text></g>
<polyline points="267.3,166.2 267.3,161.5 283.5,161.5 283.5,248.3" fill="none" stroke="#8a8a8a" stroke-width="1.0"/>
<polyline points="267.3,252.7 267.3,179.6 275.8,179.6 275.8,183.5" fill="none" stroke="#8a8a8a" stroke-width="1.0"/>
<polyline points="305.5,252.4 305.5,179.1 313.5,179.1 313.5,250.5" fill="none" stroke="#8a8a8a" stroke-width="1.0"/>
<line x1="269.65" y1="153.05" x2="269.65" y2="158.15" stroke="#262626" stroke-width="1.1" stroke-linecap="butt"/>
<line x1="267.44" y1="154.32" x2="271.86" y2="156.88" stroke="#262626" stroke-width="1.1" stroke-linecap="butt"/>
<line x1="271.86" y1="154.32" x2="267.44" y2="156.88" stroke="#262626" stroke-width="1.1" stroke-linecap="butt"/>
<line x1="275.20" y1="153.05" x2="275.20" y2="158.15" stroke="#262626" stroke-width="1.1" stroke-linecap="butt"/>
<line x1="272.99" y1="154.32" x2="277.41" y2="156.88" stroke="#262626" stroke-width="1.1" stroke-linecap="butt"/>
<line x1="277.41" y1="154.32" x2="272.99" y2="156.88" stroke="#262626" stroke-width="1.1" stroke-linecap="butt"/>
<line x1="280.75" y1="153.05" x2="280.75" y2="158.15" stroke="#262626" stroke-width="1.1" stroke-linecap="butt"/>
<line x1="278.54" y1="154.32" x2="282.96" y2="156.88" stroke="#262626" stroke-width="1.1" stroke-linecap="butt"/>
<line x1="282.96" y1="154.32" x2="278.54" y2="156.88" stroke="#262626" stroke-width="1.1" stroke-linecap="butt"/>
<line x1="268.43" y1="170.45" x2="268.43" y2="175.55" stroke="#262626" stroke-width="1.1" stroke-linecap="butt"/>
<line x1="266.22" y1="171.72" x2="270.63" y2="174.28" stroke="#262626" stroke-width="1.1" stroke-linecap="butt"/>
<line x1="270.63" y1="171.72" x2="266.22" y2="174.28" stroke="#262626" stroke-width="1.1" stroke-linecap="butt"/>
<line x1="273.98" y1="170.45" x2="273.98" y2="175.55" stroke="#262626" stroke-width="1.1" stroke-linecap="butt"/>
<line x1="271.77" y1="171.72" x2="276.18" y2="174.28" stroke="#262626" stroke-width="1.1" stroke-linecap="butt"/>
<line x1="276.18" y1="171.72" x2="271.77" y2="174.28" stroke="#262626" stroke-width="1.1" stroke-linecap="butt"/>
<line x1="306.43" y1="170.85" x2="306.43" y2="175.95" stroke="#262626" stroke-width="1.1" stroke-linecap="butt"/>
<line x1="304.22" y1="172.12" x2="308.63" y2="174.68" stroke="#262626" stroke-width="1.1" stroke-linecap="butt"/>
<line x1="308.63" y1="172.12" x2="304.22" y2="174.68" stroke="#262626" stroke-width="1.1" stroke-linecap="butt"/>
<line x1="311.98" y1="170.85" x2="311.98" y2="175.95" stroke="#262626" stroke-width="1.1" stroke-linecap="butt"/>
<line x1="309.77" y1="172.12" x2="314.18" y2="174.68" stroke="#262626" stroke-width="1.1" stroke-linecap="butt"/>
<line x1="314.18" y1="172.12" x2="309.77" y2="174.68" stroke="#262626" stroke-width="1.1" stroke-linecap="butt"/>
<clipPath id="cD"><rect x="250" y="150" width="120" height="107.2"/></clipPath>
<g clip-path="url(#cD)">
<circle cx="259.3" cy="257.1" r="2.55" fill="#0000ff"/>
<rect x="264.8" y="254.72500000000002" width="5.0" height="4.75" fill="#ff0000"/>
<rect x="273.40000000000003" y="203.8" width="5.0" height="53.30000000000001" fill="#8fe08f" stroke="#12c812" stroke-width="1"/>
<line x1="275.5" y1="188" x2="275.5" y2="203.3" stroke="#12c812" stroke-width="1.3" />
<polygon points="275.90000000000003,185.725 273.27500000000003,190.6 278.52500000000003,190.6" fill="#12c812"/>
<polygon points="275.90000000000003,206.725 273.27500000000003,211.6 278.52500000000003,211.6" fill="#18b818"/>
<polygon points="275.90000000000003,212.125 273.27500000000003,217.0 278.52500000000003,217.0" fill="#18b818"/>
<rect x="281.5" y="252.4" width="5.0" height="4.700000000000017" fill="#d08af5" stroke="#a805ee" stroke-width="1"/>
<line x1="284.0" y1="248.9" x2="284.0" y2="251.9" stroke="#a805ee" stroke-width="1.0" />
<line x1="281.8" y1="248.9" x2="286.2" y2="248.9" stroke="#a805ee" stroke-width="1.0" />
<line x1="281.8" y1="251.9" x2="286.2" y2="251.9" stroke="#a805ee" stroke-width="1.0" />
<polygon points="284.0,254.475 281.375,249.6 286.625,249.6" fill="#a805ee"/>
<polygon points="284.0,257.375 281.375,252.5 286.625,252.5" fill="#a805ee"/>
<circle cx="297.4" cy="257.1" r="2.55" fill="#0000ff"/>
<rect x="302.9" y="254.72500000000002" width="5.0" height="4.75" fill="#ff0000"/>
<polygon points="313.29999999999995,251.895 310.465,257.16 316.13499999999993,257.16" fill="#12c812"/>
<line x1="321.29999999999995" y1="250.8" x2="321.29999999999995" y2="254" stroke="#a805ee" stroke-width="1.0" />
<line x1="319.09999999999997" y1="250.8" x2="323.49999999999994" y2="250.8" stroke="#a805ee" stroke-width="1.0" />
<line x1="319.09999999999997" y1="254" x2="323.49999999999994" y2="254" stroke="#a805ee" stroke-width="1.0" />
<polygon points="321.29999999999995,255.675 318.67499999999995,250.8 323.92499999999995,250.8" fill="#a805ee"/>
<polygon points="321.29999999999995,258.675 318.67499999999995,253.8 323.92499999999995,253.8" fill="#a805ee"/>
<circle cx="334.9" cy="257.1" r="2.55" fill="#0000ff"/>
<rect x="340.6" y="254.72500000000002" width="5.0" height="4.75" fill="#ff0000"/>
<polygon points="350.6,253.625 347.975,258.5 353.225,258.5" fill="#12c812"/>
<polygon points="359.2,258.375 356.575,253.50000000000003 361.825,253.50000000000003" fill="#a805ee"/>
</g>
<line x1="253.3" y1="257.3" x2="365.3" y2="257.3" stroke="#222222" stroke-width="1.05" />
<line x1="271.3" y1="257.3" x2="271.3" y2="260.5" stroke="#222222" stroke-width="1.05" />
<line x1="309.4" y1="257.3" x2="309.4" y2="260.5" stroke="#222222" stroke-width="1.05" />
<line x1="347.0" y1="257.3" x2="347.0" y2="260.5" stroke="#222222" stroke-width="1.05" />
<text transform="translate(271.30,269.80) scale(1,1.1)" x="0" y="0" font-size="8.5" font-weight="bold" text-anchor="middle" fill="#111" >3</text>
<text transform="translate(309.40,269.80) scale(1,1.1)" x="0" y="0" font-size="8.5" font-weight="bold" text-anchor="middle" fill="#111" >24</text>
<text transform="translate(347.00,269.80) scale(1,1.1)" x="0" y="0" font-size="8.5" font-weight="bold" text-anchor="middle" fill="#111" >48</text>
<line x1="251" y1="257.3" x2="253.9" y2="257.3" stroke="#222222" stroke-width="1.05" />
<text x="309.1" y="282.2" font-size="9.2" font-weight="bold" text-anchor="middle" fill="#111" >Time post immunization (h)</text>
<circle cx="341.8" cy="181.2" r="2.3970000000000002" fill="#0000ff"/>
<text transform="translate(350.40,184.20) scale(1,1.1)" x="0" y="0" font-size="8.1" font-weight="normal" text-anchor="start" fill="#111" stroke="#111" stroke-width="0.18">Empty LNP</text>
<rect x="339.45" y="187.56750000000002" width="4.7" height="4.465" fill="#ff0000"/>
<text transform="translate(350.40,192.80) scale(1,1.1)" x="0" y="0" font-size="8.1" font-weight="normal" text-anchor="start" fill="#111" stroke="#111" stroke-width="0.18">OVA mRNA</text>
<polygon points="341.8,196.2975 339.33250000000004,200.88 344.2675,200.88" fill="#12c812"/>
<text transform="translate(350.40,202.00) scale(1,1.1)" x="0" y="0" font-size="8.1" font-weight="normal" text-anchor="start" fill="#111" stroke="#111" stroke-width="0.18">FljB mRNA/OVA mRNA</text>
<polygon points="341.8,210.1025 339.33250000000004,205.52 344.2675,205.52" fill="#a805ee"/>
<text transform="translate(350.40,210.40) scale(1,1.1)" x="0" y="0" font-size="8.1" font-weight="normal" text-anchor="start" fill="#111" stroke="#111" stroke-width="0.18">FljB-OVA mRNA</text>
<line x1="465.5" y1="183.3" x2="465.5" y2="257.1" stroke="#222222" stroke-width="1.05" />
<line x1="462.3" y1="183.8" x2="465.5" y2="183.8" stroke="#222222" stroke-width="1.05" />
<text transform="translate(460.70,187.60) scale(1,1.1)" x="0" y="0" font-size="8.3" font-weight="bold" text-anchor="end" fill="#111" >80</text>
<line x1="462.3" y1="202.05" x2="465.5" y2="202.05" stroke="#222222" stroke-width="1.05" />
<text transform="translate(460.70,205.85) scale(1,1.1)" x="0" y="0" font-size="8.3" font-weight="bold" text-anchor="end" fill="#111" >60</text>
<line x1="462.3" y1="220.3" x2="465.5" y2="220.3" stroke="#222222" stroke-width="1.05" />
<text transform="translate(460.70,224.10) scale(1,1.1)" x="0" y="0" font-size="8.3" font-weight="bold" text-anchor="end" fill="#111" >40</text>
<line x1="462.3" y1="238.55" x2="465.5" y2="238.55" stroke="#222222" stroke-width="1.05" />
<text transform="translate(460.70,242.35) scale(1,1.1)" x="0" y="0" font-size="8.3" font-weight="bold" text-anchor="end" fill="#111" >20</text>
<line x1="462.3" y1="256.8" x2="465.5" y2="256.8" stroke="#222222" stroke-width="1.05" />
<text transform="translate(460.70,260.60) scale(1,1.1)" x="0" y="0" font-size="8.3" font-weight="bold" text-anchor="end" fill="#111" >0</text>
<text x="503.1" y="151.3" font-size="11.7" font-weight="normal" text-anchor="start" fill="#111" >Boost</text>
<g transform="translate(446.6,258.1) rotate(-90)"><text x="0" y="0" font-size="9.1" font-weight="bold" fill="#111">Serum IL-6 (ng/ml)</text></g>
<polyline points="478.4,179.3 478.4,175.5 495.4,175.5 495.4,245.8" fill="none" stroke="#8a8a8a" stroke-width="1.0"/>
<polyline points="478.4,251.6 478.4,192.5 487.1,192.5 487.1,196.9" fill="none" stroke="#8a8a8a" stroke-width="1.0"/>
<line x1="481.05" y1="165.85" x2="481.05" y2="170.95" stroke="#262626" stroke-width="1.1" stroke-linecap="butt"/>
<line x1="478.84" y1="167.12" x2="483.26" y2="169.68" stroke="#262626" stroke-width="1.1" stroke-linecap="butt"/>
<line x1="483.26" y1="167.12" x2="478.84" y2="169.68" stroke="#262626" stroke-width="1.1" stroke-linecap="butt"/>
<line x1="486.60" y1="165.85" x2="486.60" y2="170.95" stroke="#262626" stroke-width="1.1" stroke-linecap="butt"/>
<line x1="484.39" y1="167.12" x2="488.81" y2="169.68" stroke="#262626" stroke-width="1.1" stroke-linecap="butt"/>
<line x1="488.81" y1="167.12" x2="484.39" y2="169.68" stroke="#262626" stroke-width="1.1" stroke-linecap="butt"/>
<line x1="492.15" y1="165.85" x2="492.15" y2="170.95" stroke="#262626" stroke-width="1.1" stroke-linecap="butt"/>
<line x1="489.94" y1="167.12" x2="494.36" y2="169.68" stroke="#262626" stroke-width="1.1" stroke-linecap="butt"/>
<line x1="494.36" y1="167.12" x2="489.94" y2="169.68" stroke="#262626" stroke-width="1.1" stroke-linecap="butt"/>
<line x1="482.70" y1="184.35" x2="482.70" y2="189.45" stroke="#262626" stroke-width="1.1" stroke-linecap="butt"/>
<line x1="480.49" y1="185.62" x2="484.91" y2="188.18" stroke="#262626" stroke-width="1.1" stroke-linecap="butt"/>
<line x1="484.91" y1="185.62" x2="480.49" y2="188.18" stroke="#262626" stroke-width="1.1" stroke-linecap="butt"/>
<clipPath id="cE"><rect x="460" y="150" width="120" height="106.9"/></clipPath>
<g clip-path="url(#cE)">
<circle cx="470.8" cy="256.8" r="2.55" fill="#0000ff"/>
<rect x="476.5" y="254.1" width="5.0" height="2.700000000000017" fill="#ff8080" stroke="#ff0000" stroke-width="1"/>
<rect x="476.5" y="253.925" width="5.0" height="4.75" fill="#ff0000"/>
<rect x="484.7" y="220.2" width="5.0" height="36.60000000000002" fill="#8fe08f" stroke="#12c812" stroke-width="1"/>
<line x1="487.2" y1="209.8" x2="487.2" y2="219.7" stroke="#12c812" stroke-width="1.1" />
<polygon points="487.2,199.025 484.575,203.9 489.825,203.9" fill="#12c812"/>
<polygon points="487.2,206.925 484.575,211.8 489.825,211.8" fill="#12c812"/>
<polygon points="487.2,209.725 484.575,214.6 489.825,214.6" fill="#12c812"/>
<polygon points="487.2,223.125 484.575,228.0 489.825,228.0" fill="#3cc83c"/>
<polygon points="487.2,232.625 484.575,237.5 489.825,237.5" fill="#3cc83c"/>
<polygon points="487.2,241.125 484.575,246.0 489.825,246.0" fill="#3cc83c"/>
<rect x="492.8" y="248.3" width="5.0" height="8.5" fill="#d08af5" stroke="#a805ee" stroke-width="1"/>
<polygon points="495.3,252.875 492.675,248.0 497.925,248.0" fill="#a805ee"/>
<polygon points="495.3,256.875 492.675,252.0 497.925,252.0" fill="#a805ee"/>
<circle cx="508.4" cy="256.8" r="2.55" fill="#0000ff"/>
<rect x="514.2" y="254.425" width="5.0" height="4.75" fill="#ff0000"/>
<polygon points="524.9,249.6 521.9,257.2 527.9,257.2" fill="#12c812"/>
<rect x="530.5" y="254.425" width="5.0" height="4.75" fill="#a805ee"/>
<circle cx="546.1" cy="256.8" r="2.55" fill="#0000ff"/>
<rect x="552.0" y="254.425" width="5.0" height="4.75" fill="#ff0000"/>
<polygon points="562.7,253.87000000000003 560.3900000000001,258.16 565.01,258.16" fill="#12c812"/>
<rect x="568.1" y="254.425" width="5.0" height="4.75" fill="#a805ee"/>
</g>
<line x1="464.9" y1="257.1" x2="576.9" y2="257.1" stroke="#222222" stroke-width="1.05" />
<line x1="483.0" y1="257.1" x2="483.0" y2="260.3" stroke="#222222" stroke-width="1.05" />
<line x1="521.0" y1="257.1" x2="521.0" y2="260.3" stroke="#222222" stroke-width="1.05" />
<line x1="558.6" y1="257.1" x2="558.6" y2="260.3" stroke="#222222" stroke-width="1.05" />
<text transform="translate(483.00,269.60) scale(1,1.1)" x="0" y="0" font-size="8.5" font-weight="bold" text-anchor="middle" fill="#111" >3</text>
<text transform="translate(521.00,269.60) scale(1,1.1)" x="0" y="0" font-size="8.5" font-weight="bold" text-anchor="middle" fill="#111" >24</text>
<text transform="translate(558.60,269.60) scale(1,1.1)" x="0" y="0" font-size="8.5" font-weight="bold" text-anchor="middle" fill="#111" >48</text>
<line x1="462.4" y1="257.1" x2="465.5" y2="257.1" stroke="#222222" stroke-width="1.05" />
<text x="521.4" y="282.2" font-size="9.2" font-weight="bold" text-anchor="middle" fill="#111" >Time post immunization (h)</text>
<circle cx="524.6" cy="181.2" r="2.3970000000000002" fill="#0000ff"/>
<text transform="translate(533.50,184.20) scale(1,1.1)" x="0" y="0" font-size="8.1" font-weight="normal" text-anchor="start" fill="#111" stroke="#111" stroke-width="0.18">Empty LNP</text>
<rect x="522.25" y="187.06750000000002" width="4.7" height="4.465" fill="#ff0000"/>
<text transform="translate(533.50,192.30) scale(1,1.1)" x="0" y="0" font-size="8.1" font-weight="normal" text-anchor="start" fill="#111" stroke="#111" stroke-width="0.18">OVA mRNA</text>
<polygon points="524.6,194.8975 522.1325,199.48 527.0675,199.48" fill="#12c812"/>
<text transform="translate(533.50,200.60) scale(1,1.1)" x="0" y="0" font-size="8.1" font-weight="normal" text-anchor="start" fill="#111" stroke="#111" stroke-width="0.18">FljB mRNA/OVA mRNA</text>
<polygon points="524.6,207.7025 522.1325,203.12 527.0675,203.12" fill="#a805ee"/>
<text transform="translate(533.50,208.00) scale(1,1.1)" x="0" y="0" font-size="8.1" font-weight="normal" text-anchor="start" fill="#111" stroke="#111" stroke-width="0.18">FljB-OVA mRNA</text>
</svg>
</body></html>
